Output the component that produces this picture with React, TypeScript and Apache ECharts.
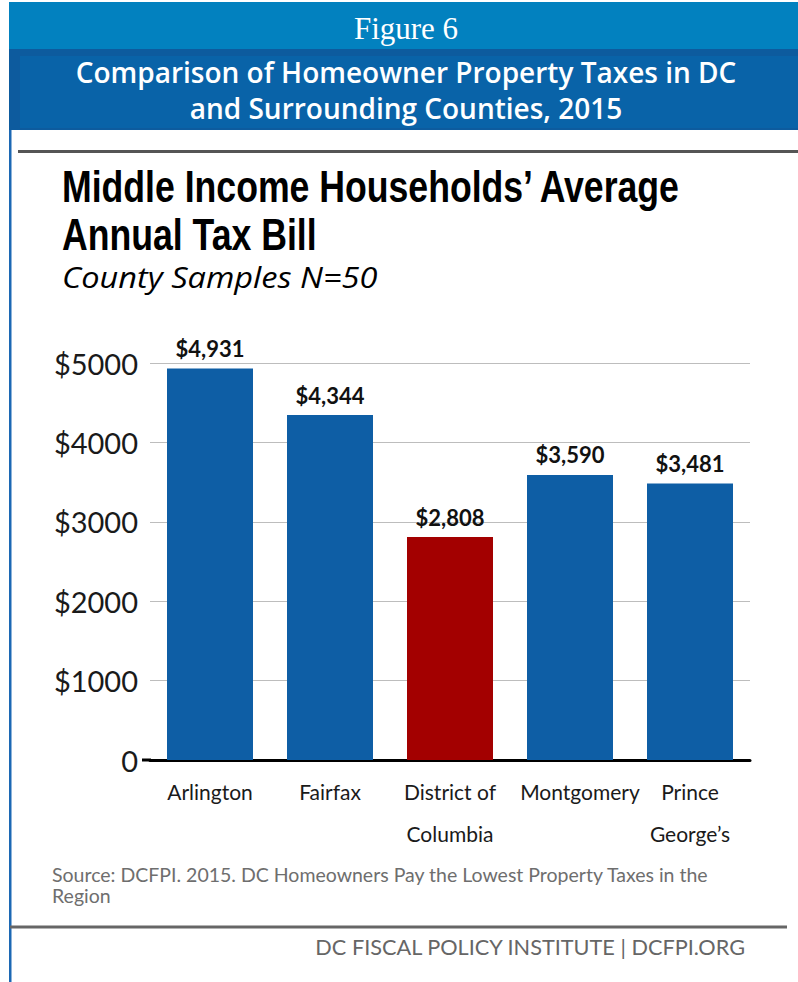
import React, { useEffect, useRef } from 'react';
import * as echarts from 'echarts';

// ---- data ----
const categories = ['Arlington', 'Fairfax', 'District of\nColumbia', 'Montgomery', 'Prince\nGeorge’s'];
const values = [4931, 4344, 2808, 3590, 3481];
const highlighted = 'District of\nColumbia';
const yMin = 0;
const yMax = 5000;
const yStep = 1000;

// ---- texts ----
const figureLabel = 'Figure 6';
const headerLines = ['Comparison of Homeowner Property Taxes in DC', 'and Surrounding Counties, 2015'];
const titleLines = ['Middle Income Households’ Average', 'Annual Tax Bill'];
const subtitle = 'County Samples N=50';
const sourceLines = ['Source: DCFPI. 2015. DC Homeowners Pay the Lowest Property Taxes in the', 'Region'];
const footer = 'DC FISCAL POLICY INSTITUTE | DCFPI.ORG';

const BLUE = '#0e5ea5';
const RED = '#a30000';
const MYRIAD = 'Lato, "Open Sans", sans-serif';
const TITLE_FONT = '"Liberation Sans", Arial, sans-serif';

export default function App() {
  const ref = useRef<HTMLDivElement>(null);

  useEffect(() => {
    if (!ref.current) return;
    const chart = echarts.init(ref.current, undefined, { renderer: 'svg' });

    const option: any = {
      animation: false,
      backgroundColor: '#ffffff',
      grid: { left: 150, right: 48, top: 363, bottom: 222, containLabel: false },
      xAxis: {
        type: 'category',
        data: categories.map((c) =>
          c === 'Montgomery' ? { value: c, textStyle: { padding: [0, 0, 0, 20] } } : c
        ),
        axisLine: { show: true, lineStyle: { color: '#000000', width: 3 } },
        axisTick: { show: false },
        axisLabel: {
          interval: 0,
          margin: 10,
          fontFamily: MYRIAD,
          fontSize: 21,
          lineHeight: 42,
          color: '#1a1a1a',
        },
      },
      yAxis: {
        type: 'value',
        min: yMin,
        max: yMax,
        interval: yStep,
        axisLine: { show: false },
        axisTick: { show: false },
        splitLine: { show: true, lineStyle: { color: '#bdbdbd', width: 1 } },
        axisLabel: {
          margin: 12,
          fontFamily: MYRIAD,
          fontSize: 29,
          color: '#1a1a1a',
          formatter: (v: number) => (v === 0 ? '0' : '$' + v),
        },
      },
      series: [
        {
          type: 'bar',
          data: values,
          barWidth: 86,
          itemStyle: {
            color: (p: any) => (categories[p.dataIndex] === highlighted ? RED : BLUE),
          },
          label: {
            show: true,
            position: 'top',
            distance: 9,
            fontFamily: MYRIAD,
            fontWeight: 'bold',
            fontSize: 22,
            color: '#111111',
            formatter: (p: any) => '$' + Number(p.value).toLocaleString('en-US'),
          },
        },
      ],
      graphic: [
        { type: 'rect', shape: { x: 9, y: 2, width: 789, height: 47 }, style: { fill: '#0281bf' }, silent: true },
        { type: 'rect', shape: { x: 9, y: 49, width: 789, height: 81 }, style: { fill: '#0d5b9e' }, silent: true },
        { type: 'rect', shape: { x: 20, y: 56, width: 778, height: 72 }, style: { fill: '#0963a8' }, silent: true },
        { type: 'rect', shape: { x: 9, y: 130, width: 2.5, height: 852 }, style: { fill: '#1c68b4' }, silent: true },
        { type: 'rect', shape: { x: 18, y: 150, width: 780, height: 3 }, style: { fill: '#555555' }, silent: true },
        { type: 'rect', shape: { x: 10, y: 925.5, width: 777, height: 3 }, style: { fill: '#666666' }, silent: true },
        { type: 'rect', shape: { x: 142, y: 758.5, width: 9, height: 3 }, style: { fill: '#000000' }, silent: true },
        {
          type: 'text', x: 406, y: 28.5,
          style: { text: figureLabel, fill: '#ffffff', font: '31px "Liberation Serif", serif', align: 'center', verticalAlign: 'middle' },
        },
        {
          type: 'text', x: 406, y: 72,
          style: { text: headerLines[0], fill: '#ffffff', font: '600 28px "Open Sans", sans-serif', align: 'center', verticalAlign: 'middle' },
        },
        {
          type: 'text', x: 406, y: 108,
          style: { text: headerLines[1], fill: '#ffffff', font: '600 28px "Open Sans", sans-serif', align: 'center', verticalAlign: 'middle' },
        },
        {
          type: 'text', x: 62, y: 186.8, scaleX: 0.81,
          style: { text: titleLines[0], fill: '#000000', font: 'bold 44px ' + TITLE_FONT, align: 'left', verticalAlign: 'middle' },
        },
        {
          type: 'text', x: 62, y: 234.8, scaleX: 0.81,
          style: { text: titleLines[1], fill: '#000000', font: 'bold 44px ' + TITLE_FONT, align: 'left', verticalAlign: 'middle' },
        },
        {
          type: 'text', x: 62, y: 276.5, scaleX: 1.085,
          style: { text: subtitle, fill: '#000000', font: 'italic 30px "Open Sans", sans-serif', align: 'left', verticalAlign: 'middle' },
        },
        {
          type: 'text', x: 52, y: 864,
          style: {
            text: sourceLines.join('\n'), fill: '#6e6e6e', font: '19.5px ' + MYRIAD,
            lineHeight: 21, align: 'left', verticalAlign: 'top',
          },
        },
        {
          type: 'text', x: 745, y: 946.9,
          style: { text: footer, fill: '#666666', font: '21.7px ' + MYRIAD, align: 'right', verticalAlign: 'middle' },
        },
      ],
    };

    chart.setOption(option);
    return () => chart.dispose();
  }, []);

  return (
    <div
      ref={ref}
      style={{ position: 'fixed', left: 0, top: 0, width: 798, height: 982, background: '#ffffff' }}
    />
  );
}
